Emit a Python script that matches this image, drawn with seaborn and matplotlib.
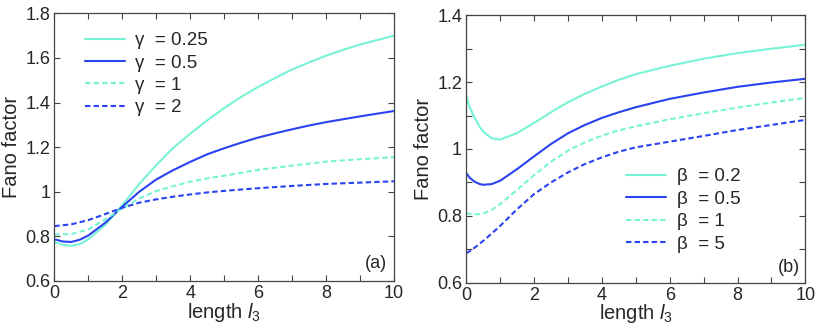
import numpy as np
import pandas as pd
import matplotlib
matplotlib.use("Agg")
import matplotlib.pyplot as plt
from matplotlib.ticker import MultipleLocator, FuncFormatter
import seaborn as sns

# --------------------------------------------------------------------
# data
# --------------------------------------------------------------------
# panel (a): gamma sweep
xa_solid = [0, 0.25, 0.5, 0.75, 1, 1.5, 2, 2.5, 3, 3.5, 4, 4.5, 5,
            5.5, 6, 6.5, 7, 7.5, 8, 8.5, 9, 9.5, 10]
g025 = [0.774, 0.762, 0.758, 0.765, 0.787, 0.851, 0.940, 1.035, 1.119, 1.197, 1.260, 1.320, 1.375,
        1.425, 1.470, 1.510, 1.548, 1.580, 1.610, 1.636, 1.660, 1.680, 1.700]
g05 = [0.787, 0.777, 0.775, 0.785, 0.804, 0.861, 0.933, 1.000, 1.055, 1.097, 1.134, 1.168, 1.195,
       1.220, 1.243, 1.262, 1.280, 1.297, 1.312, 1.325, 1.338, 1.350, 1.362]
xa_dash = [0, 0.5, 1, 1.5, 2, 2.5, 3, 3.5, 4, 4.5, 5, 6, 7, 8, 9, 10]
g1 = [0.809, 0.810, 0.831, 0.876, 0.925, 0.970, 1.003, 1.025, 1.045, 1.060, 1.072,
      1.098, 1.117, 1.135, 1.146, 1.155]
g2 = [0.846, 0.854, 0.873, 0.900, 0.928, 0.951, 0.966, 0.978, 0.988, 0.997, 1.004,
      1.016, 1.026, 1.035, 1.041, 1.047]

# panel (b): beta sweep
xb = [0, 0.1, 0.25, 0.4, 0.5, 0.75, 1, 1.5, 2, 2.5, 3, 3.5, 4, 4.5, 5, 6, 7, 8, 9, 10]
b02 = [1.159, 1.125, 1.093, 1.065, 1.052, 1.032, 1.028, 1.048, 1.078, 1.110, 1.140, 1.165, 1.187,
       1.207, 1.224, 1.249, 1.270, 1.287, 1.300, 1.312]
b05 = [0.928, 0.914, 0.902, 0.895, 0.893, 0.895, 0.905, 0.940, 0.978, 1.015, 1.047, 1.072, 1.093,
       1.110, 1.125, 1.150, 1.169, 1.186, 1.199, 1.210]
b1 = [0.808, 0.806, 0.805, 0.805, 0.807, 0.818, 0.835, 0.878, 0.922, 0.962, 0.995, 1.020, 1.040,
      1.056, 1.068, 1.089, 1.107, 1.124, 1.139, 1.153]
b5 = [0.688, 0.694, 0.705, 0.717, 0.725, 0.747, 0.770, 0.820, 0.865, 0.900, 0.930, 0.955, 0.975,
      0.992, 1.005, 1.022, 1.039, 1.057, 1.072, 1.087]

labels_a = ["γ  = 0.25", "γ  = 0.5", "γ  = 1", "γ  = 2"]
labels_b = ["β  = 0.2", "β  = 0.5", "β  = 1", "β  = 5"]

CYAN = "#78F3D6"
BLUE = "#2B42F0"
DASH = (0, (2.6, 1.5))

sns.set_style("ticks")
plt.rcParams["font.family"] = ["Liberation Sans", "DejaVu Sans"]
plt.rcParams["mathtext.fontset"] = "custom"
plt.rcParams["mathtext.rm"] = "Liberation Sans"
plt.rcParams["mathtext.it"] = "Liberation Sans:italic"

fig = plt.figure(figsize=(8.18, 3.34), dpi=100)
ax_a = fig.add_axes([0.0664, 0.1587, 0.4153, 0.8015])
ax_b = fig.add_axes([0.5700, 0.1536, 0.4145, 0.8006])

series_a = [(xa_solid, g025, CYAN, "-"), (xa_solid, g05, BLUE, "-"),
            (xa_dash, g1, CYAN, DASH), (xa_dash, g2, BLUE, DASH)]
series_b = [(xb, b02, CYAN, "-"), (xb, b05, BLUE, "-"),
            (xb, b1, CYAN, DASH), (xb, b5, BLUE, DASH)]

for ax, series, labs in [(ax_a, series_a, labels_a), (ax_b, series_b, labels_b)]:
    for (xs, ys, col, ls), lab in zip(series, labs):
        df = pd.DataFrame({"x": xs, "y": ys})
        sns.lineplot(data=df, x="x", y="y", ax=ax, color=col, linestyle=ls,
                     linewidth=1.5, label=lab)

fmt = FuncFormatter(lambda v, p: f"{v:g}")
for ax in (ax_a, ax_b):
    ax.set_xlim(0, 10)
    ax.xaxis.set_major_locator(MultipleLocator(2))
    ax.xaxis.set_minor_locator(MultipleLocator(1))
    ax.yaxis.set_major_formatter(fmt)
    ax.tick_params(which="both", direction="in", top=True, right=True,
                   length=4, width=0.8, color="#444444", labelsize=13, pad=3)
    for s in ax.spines.values():
        s.set_color("#444444")
        s.set_linewidth(0.9)
    ax.set_xlabel(r"length $l_3$", fontsize=14.5, labelpad=-1)
    ax.set_ylabel("Fano factor", fontsize=14.5, labelpad=3)

ax_a.set_ylim(0.6, 1.8)
ax_a.yaxis.set_major_locator(MultipleLocator(0.2))
ax_b.set_ylim(0.6, 1.4)
ax_b.yaxis.set_major_locator(MultipleLocator(0.2))
ax_b.yaxis.set_minor_locator(MultipleLocator(0.1))

ax_a.legend(loc="upper left", bbox_to_anchor=(0.09, 0.93), frameon=False,
            fontsize=13.5, handlelength=2.15, handletextpad=0.5,
            labelspacing=0.28, borderpad=0, borderaxespad=0)
ax_b.legend(loc="upper left", bbox_to_anchor=(0.47, 0.428), frameon=False,
            fontsize=13.5, handlelength=2.15, handletextpad=0.6,
            labelspacing=0.28, borderpad=0, borderaxespad=0)

ax_a.text(0.978, 0.065, "(a)", transform=ax_a.transAxes, ha="right", va="center", fontsize=13)
ax_b.text(0.983, 0.058, "(b)", transform=ax_b.transAxes, ha="right", va="center", fontsize=13)

fig.savefig("out.png", dpi=100)
